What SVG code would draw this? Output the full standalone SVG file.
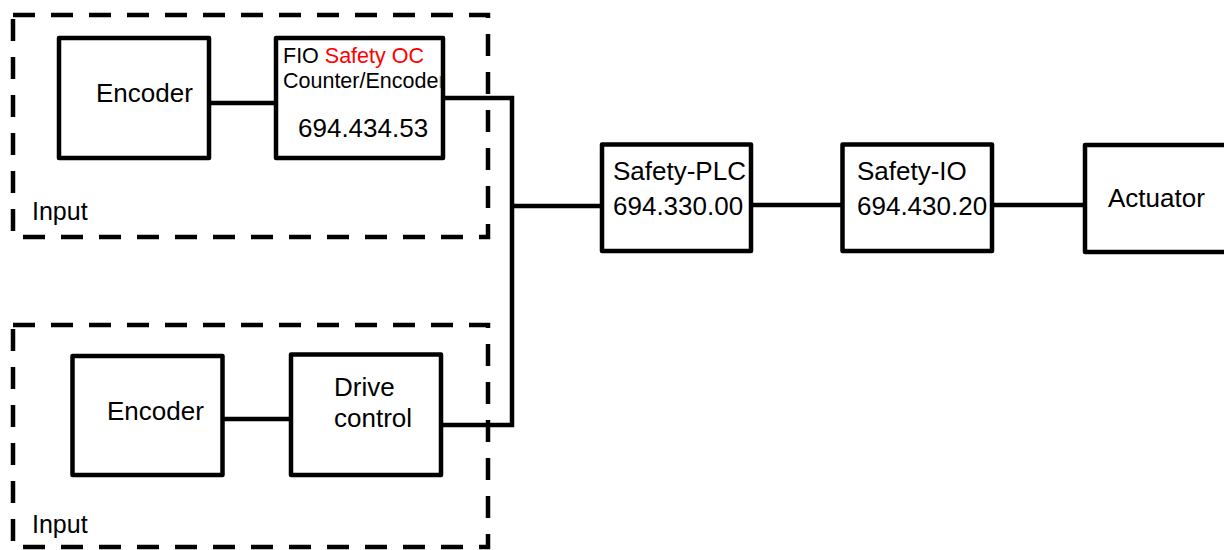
<svg xmlns="http://www.w3.org/2000/svg" width="1224" height="550" viewBox="0 0 1224 550">
<style>
.box{fill:#fff;stroke:#000;stroke-width:4.5;stroke-linejoin:round}
.grp{fill:none;stroke:#000;stroke-width:4.5;stroke-dasharray:22 16}
.wire{fill:none;stroke:#000;stroke-width:4.5}
text{font-family:"Liberation Sans",Arial,sans-serif;fill:#000}
.lg{font-size:26px}
.in{font-size:25px}
.sm{font-size:21.5px}
.red{fill:#ff0000}
</style>
<defs>
<clipPath id="fioClip"><rect x="276" y="38" width="164.5" height="120"/></clipPath>
</defs>
<rect width="1224" height="550" fill="#fff"/>
<g id="input1">
<rect class="grp" x="13" y="15" width="475" height="222"/>
<text class="in" x="32" y="220">Input</text>
</g>
<g id="input2">
<rect class="grp" x="13" y="325" width="475" height="222"/>
<text class="in" x="32" y="533">Input</text>
</g>
<g id="connectors">
<line class="wire" x1="209" y1="103" x2="276" y2="103"/>
<polyline class="wire" points="443,98 512,98 512,425 441,425"/>
<line class="wire" x1="222" y1="419" x2="291" y2="419"/>
<line class="wire" x1="512" y1="206" x2="602" y2="206"/>
<line class="wire" x1="751" y1="205" x2="842" y2="205"/>
<line class="wire" x1="992" y1="205" x2="1085" y2="205"/>
</g>
<g id="encoder1">
<rect class="box" x="59" y="38" width="150" height="120"/>
<text class="lg" x="96" y="102">Encoder</text>
</g>
<g id="fio">
<rect class="box" x="276" y="38" width="167" height="120"/>
<g clip-path="url(#fioClip)">
<text class="sm" x="283" y="63">FIO <tspan class="red">Safety OC</tspan></text>
<text class="sm" x="283" y="88">Counter/Encoder</text>
</g>
<text class="lg" x="298" y="137">694.434.53</text>
</g>
<g id="encoder2">
<rect class="box" x="72.5" y="356" width="150" height="119"/>
<text class="lg" x="107" y="420">Encoder</text>
</g>
<g id="drive">
<rect class="box" x="291" y="354.5" width="150" height="120.5"/>
<text class="lg" x="334" y="396">Drive</text>
<text class="lg" x="334" y="427">control</text>
</g>
<g id="plc">
<rect class="box" x="602" y="144.5" width="149" height="106.5"/>
<text class="lg" x="613" y="180">Safety-PLC</text>
<text class="lg" x="613" y="215">694.330.00</text>
</g>
<g id="sio">
<rect class="box" x="842.5" y="144.5" width="149.5" height="106.5"/>
<text class="lg" x="857" y="180">Safety-IO</text>
<text class="lg" x="857" y="215">694.430.20</text>
</g>
<g id="actuator">
<rect class="box" x="1085" y="145" width="160" height="107"/>
<text class="lg" x="1108" y="207">Actuator</text>
</g>
</svg>
